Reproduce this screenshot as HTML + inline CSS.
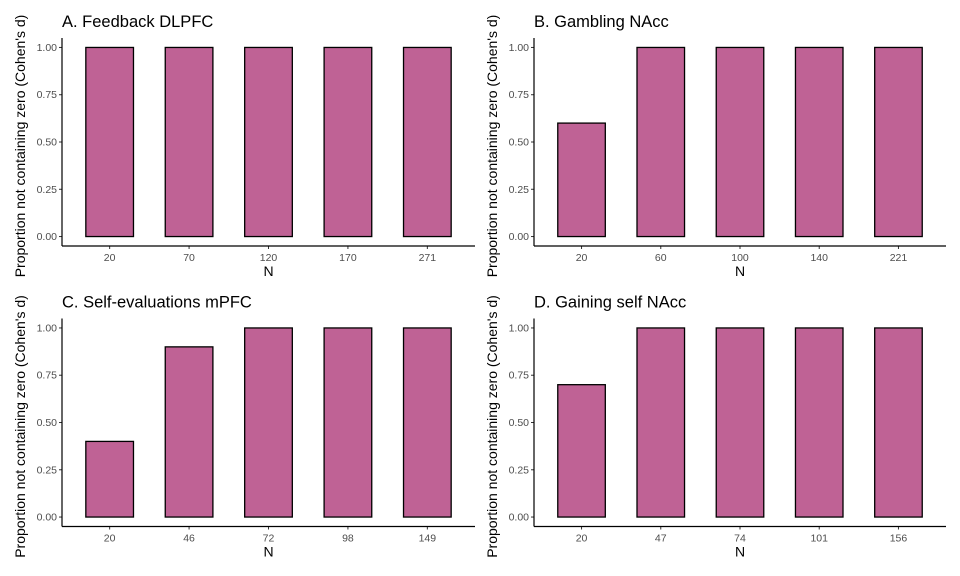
<!DOCTYPE html>
<html><head><meta charset="utf-8"><style>
body{margin:0;background:#fff;}
svg{display:block;font-family:"Liberation Sans",Arial,sans-serif;}
</style></head><body>
<svg id="chart" width="960" height="576"></svg>
<script>
const titles=["A. Feedback DLPFC","B. Gambling NAcc","C. Self-evaluations mPFC","D. Gaining self NAcc"];
const catsA=["20","70","120","170","271"];
const catsB=["20","60","100","140","221"];
const catsC=["20","46","72","98","149"];
const catsD=["20","47","74","101","156"];
const valsA=[1,1,1,1,1];
const valsB=[0.6,1,1,1,1];
const valsC=[0.4,0.9,1,1,1];
const valsD=[0.7,1,1,1,1];
const yTicks=[0,0.25,0.5,0.75,1];
const yTickLabels=["0.00","0.25","0.50","0.75","1.00"];
const panels=[
 {t:titles[0],c:catsA,v:valsA,x0:62,x1:475,top:38,bot:246},
 {t:titles[1],c:catsB,v:valsB,x0:534,x1:946,top:38,bot:246},
 {t:titles[2],c:catsC,v:valsC,x0:62,x1:475,top:318.5,bot:526.5},
 {t:titles[3],c:catsD,v:valsD,x0:534,x1:946,top:318.5,bot:526.5}
];
const svg=document.getElementById('chart');
const NS="http://www.w3.org/2000/svg";
function mk(tag,attrs,parent){const e=document.createElementNS(NS,tag);for(const k in attrs)e.setAttribute(k,attrs[k]);(parent||svg).appendChild(e);return e;}
panels.forEach((p,pi)=>{
 const g=mk('g',{});
 
 
 const n=p.c.length;
 const unit=(p.x1-p.x0)/(n-1+1.2);
 const xs=i=>p.x0+unit*(0.6+i);
 const ys=v=>p.bot-(p.bot-p.top)*(0.05+v)/1.1;
 p.v.forEach((v,i)=>{
  const r=mk('rect',{x:xs(i)-unit*0.3,y:ys(v),width:unit*0.6,height:ys(0)-ys(v),fill:'#bf6295',stroke:'#000','stroke-width':1.3},g);
  
  
  mk('line',{x1:xs(i),x2:xs(i),y1:p.bot,y2:p.bot+3,stroke:'#333','stroke-width':1},g);
  const t=mk('text',{x:xs(i),y:p.bot+15,'text-anchor':'middle','font-size':10.5,fill:'#4d4d4d'},g);
  t.textContent=p.c[i];
  
  
 });
 yTicks.forEach((v,i)=>{
  mk('line',{x1:p.x0-3,x2:p.x0,y1:ys(v),y2:ys(v),stroke:'#333','stroke-width':1},g);
  const t=mk('text',{x:p.x0-5,y:ys(v)+3.5,'text-anchor':'end','font-size':10.5,fill:'#4d4d4d'},g);
  t.textContent=yTickLabels[i];
  
  
 });
 mk('line',{x1:p.x0,x2:p.x0,y1:p.top,y2:p.bot,stroke:'#000','stroke-width':1.2},g);
 mk('line',{x1:p.x0,x2:p.x1,y1:p.bot,y2:p.bot,stroke:'#000','stroke-width':1.2},g);
 const tt=mk('text',{x:p.x0,y:p.top-11,'font-size':16.5,fill:'#000'},g);
 tt.textContent=p.t;
 
 
 const xt=mk('text',{x:(p.x0+p.x1)/2,y:p.bot+30,'text-anchor':'middle','font-size':14,fill:'#000'},g);
 xt.textContent='N';
 
 
 const cy=(p.top+p.bot)/2+4;
 const yt=mk('text',{x:0,y:0,'text-anchor':'middle','font-size':14,fill:'#000',transform:`translate(${p.x0-37},${cy}) rotate(-90)`},g);
 yt.textContent="Proportion not containing zero (Cohen's d)";
 
 
});
</script>
</body></html>
